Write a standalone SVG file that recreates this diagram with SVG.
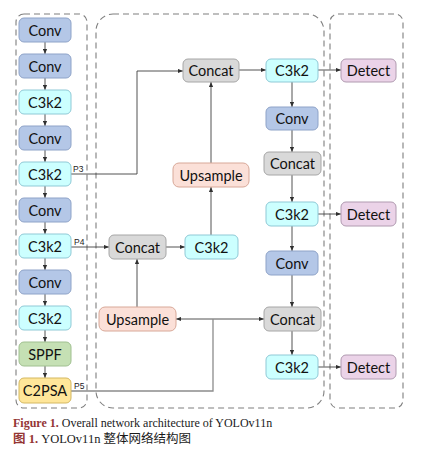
<svg xmlns="http://www.w3.org/2000/svg" width="424" height="454" viewBox="0 0 424 454">
<style>
.box{stroke-width:1}
.conv{fill:#B4C7E7;stroke:#8EA3C8}
.c3k2{fill:#CCFFFF;stroke:#8FC9D6}
.concat{fill:#D9D9D9;stroke:#A6A6A6}
.ups{fill:#FBE0D8;stroke:#D8A898}
.det{fill:#EBD3E8;stroke:#B09AB0}
.sppf{fill:#C5E0B4;stroke:#A0C090}
.c2psa{fill:#FFE699;stroke:#D4B860}
.lbl{font-family:Lato,"Open Sans",sans-serif;font-size:14.5px;fill:#111;text-anchor:middle;dominant-baseline:central}
.p{font-family:"Liberation Sans",sans-serif;font-size:8.5px;fill:#222}
.cont{fill:none;stroke:#7F7F7F;stroke-width:1.1;stroke-dasharray:6 4}
.ln{fill:none;stroke:#404040;stroke-width:0.9}
.ln2{fill:none;stroke:#8C8C8C;stroke-width:1.3}
.cap{font-family:"Liberation Serif","Noto Sans CJK SC",serif;font-size:12px;fill:#1a1a1a}
.cjk{font-size:12.5px}
.red{fill:#943634;font-weight:bold}
</style>
<defs>
<marker id="ah" viewBox="0 0 6 6" refX="6" refY="3" markerWidth="5" markerHeight="5" orient="auto" markerUnits="userSpaceOnUse">
<path d="M0,0.5 L6,3 L0,5.5 Z" fill="#303030"/>
</marker>
<marker id="ahs" viewBox="0 0 6 6" refX="0" refY="3" markerWidth="5" markerHeight="5" orient="auto" markerUnits="userSpaceOnUse">
<path d="M6,0.5 L0,3 L6,5.5 Z" fill="#303030"/>
</marker>
</defs>
<g id="containers">
<rect class="cont" x="16" y="14" width="71" height="394" rx="8"/>
<rect class="cont" x="96" y="14" width="228" height="394" rx="17"/>
<rect class="cont" x="330" y="14" width="73" height="394" rx="8"/>
</g>
<g id="connectors">
<line class="ln" x1="45" y1="42" x2="45" y2="54" marker-end="url(#ah)"/>
<line class="ln" x1="45" y1="78" x2="45" y2="90" marker-end="url(#ah)"/>
<line class="ln" x1="45" y1="114" x2="45" y2="126" marker-end="url(#ah)"/>
<line class="ln" x1="45" y1="150" x2="45" y2="162" marker-end="url(#ah)"/>
<line class="ln" x1="45" y1="186" x2="45" y2="198" marker-end="url(#ah)"/>
<line class="ln" x1="45" y1="222" x2="45" y2="234" marker-end="url(#ah)"/>
<line class="ln" x1="45" y1="258" x2="45" y2="270" marker-end="url(#ah)"/>
<line class="ln" x1="45" y1="294" x2="45" y2="306" marker-end="url(#ah)"/>
<line class="ln" x1="45" y1="330" x2="45" y2="342" marker-end="url(#ah)"/>
<line class="ln" x1="45" y1="366" x2="45" y2="378" marker-end="url(#ah)"/>
<polyline class="ln" points="71,174 137,174 137,71 183,71" marker-end="url(#ah)"/>
<line class="ln" x1="71" y1="247" x2="109" y2="247" marker-end="url(#ah)"/>
<line class="ln" x1="166" y1="247" x2="185" y2="247" marker-end="url(#ah)"/>
<line class="ln" x1="211" y1="235" x2="211" y2="187" marker-end="url(#ah)"/>
<line class="ln" x1="211" y1="163" x2="211" y2="82" marker-end="url(#ah)"/>
<line class="ln" x1="137" y1="307" x2="137" y2="259" marker-end="url(#ah)"/>
<line class="ln" x1="239" y1="70" x2="266" y2="70" marker-end="url(#ah)"/>
<line class="ln" x1="318" y1="70" x2="341" y2="70" marker-end="url(#ah)"/>
<line class="ln" x1="292" y1="82" x2="292" y2="107" marker-end="url(#ah)"/>
<line class="ln" x1="292" y1="130" x2="292" y2="152" marker-end="url(#ah)"/>
<line class="ln" x1="292" y1="175" x2="292" y2="202" marker-end="url(#ah)"/>
<line class="ln" x1="318" y1="214" x2="341" y2="214" marker-end="url(#ah)"/>
<line class="ln" x1="292" y1="226" x2="292" y2="251" marker-end="url(#ah)"/>
<line class="ln" x1="292" y1="275" x2="292" y2="307" marker-end="url(#ah)"/>
<line class="ln" x1="292" y1="331" x2="292" y2="355" marker-end="url(#ah)"/>
<line class="ln" x1="318" y1="367" x2="341" y2="367" marker-end="url(#ah)"/>
<line class="ln" x1="176" y1="319" x2="264" y2="319" marker-start="url(#ahs)" marker-end="url(#ah)"/>
<polyline class="ln2" points="71,391 213,391 213,319"/>
<text class="p" x="73" y="172">P3</text>
<text class="p" x="74" y="245">P4</text>
<text class="p" x="74" y="389">P5</text>
</g>
<g id="n1"><rect class="box conv" x="19" y="18" width="52" height="24" rx="5"/><text class="lbl" x="45" y="30">Conv</text></g>
<g id="n2"><rect class="box conv" x="19" y="54" width="52" height="24" rx="5"/><text class="lbl" x="45" y="66">Conv</text></g>
<g id="n3"><rect class="box c3k2" x="19" y="90" width="52" height="24" rx="5"/><text class="lbl" x="45" y="102">C3k2</text></g>
<g id="n4"><rect class="box conv" x="19" y="126" width="52" height="24" rx="5"/><text class="lbl" x="45" y="138">Conv</text></g>
<g id="n5"><rect class="box c3k2" x="19" y="162" width="52" height="24" rx="5"/><text class="lbl" x="45" y="174">C3k2</text></g>
<g id="n6"><rect class="box conv" x="19" y="198" width="52" height="24" rx="5"/><text class="lbl" x="45" y="210">Conv</text></g>
<g id="n7"><rect class="box c3k2" x="19" y="234" width="52" height="24" rx="5"/><text class="lbl" x="45" y="246">C3k2</text></g>
<g id="n8"><rect class="box conv" x="19" y="270" width="52" height="24" rx="5"/><text class="lbl" x="45" y="282">Conv</text></g>
<g id="n9"><rect class="box c3k2" x="19" y="306" width="52" height="24" rx="5"/><text class="lbl" x="45" y="318">C3k2</text></g>
<g id="n10"><rect class="box sppf" x="19" y="342" width="52" height="24" rx="5"/><text class="lbl" x="45" y="354">SPPF</text></g>
<g id="n11"><rect class="box c2psa" x="19" y="378" width="52" height="25" rx="5"/><text class="lbl" x="45" y="390.5">C2PSA</text></g>
<g id="concat_top"><rect class="box concat" x="183" y="59" width="56" height="23" rx="5"/><text class="lbl" x="211" y="70.5">Concat</text></g>
<g id="ups_top"><rect class="box ups" x="173" y="163" width="76" height="24" rx="6"/><text class="lbl" x="211" y="175">Upsample</text></g>
<g id="concat_mid"><rect class="box concat" x="109" y="235" width="57" height="24" rx="5"/><text class="lbl" x="137.5" y="247">Concat</text></g>
<g id="c3k2_mid"><rect class="box c3k2" x="185" y="235" width="53" height="24" rx="5"/><text class="lbl" x="211.5" y="247">C3k2</text></g>
<g id="ups_bot"><rect class="box ups" x="99" y="307" width="77" height="24" rx="6"/><text class="lbl" x="137.5" y="319">Upsample</text></g>
<g id="c3k2_r1"><rect class="box c3k2" x="266" y="59" width="52" height="23" rx="5"/><text class="lbl" x="292" y="70.5">C3k2</text></g>
<g id="conv_r1"><rect class="box conv" x="266" y="107" width="52" height="23" rx="5"/><text class="lbl" x="292" y="118.5">Conv</text></g>
<g id="concat_r1"><rect class="box concat" x="264" y="152" width="57" height="23" rx="5"/><text class="lbl" x="292.5" y="163.5">Concat</text></g>
<g id="c3k2_r2"><rect class="box c3k2" x="266" y="202" width="52" height="24" rx="5"/><text class="lbl" x="292" y="214">C3k2</text></g>
<g id="conv_r2"><rect class="box conv" x="266" y="251" width="52" height="24" rx="5"/><text class="lbl" x="292" y="263">Conv</text></g>
<g id="concat_r2"><rect class="box concat" x="264" y="307" width="57" height="24" rx="5"/><text class="lbl" x="292.5" y="319">Concat</text></g>
<g id="c3k2_r3"><rect class="box c3k2" x="266" y="355" width="52" height="24" rx="5"/><text class="lbl" x="292" y="367">C3k2</text></g>
<g id="det1"><rect class="box det" x="341" y="59" width="55" height="23" rx="5"/><text class="lbl" x="368.5" y="70.5">Detect</text></g>
<g id="det2"><rect class="box det" x="341" y="202" width="55" height="24" rx="5"/><text class="lbl" x="368.5" y="214">Detect</text></g>
<g id="det3"><rect class="box det" x="341" y="355" width="55" height="24" rx="5"/><text class="lbl" x="368.5" y="367">Detect</text></g>
<g id="caption">
<text class="cap" x="13" y="427"><tspan class="red">Figure 1.</tspan> Overall network architecture of YOLOv11n</text>
<text class="cap cjk" x="13" y="443"><tspan class="red">图 1.</tspan> YOLOv11n 整体网络结构图</text>
</g>
</svg>
